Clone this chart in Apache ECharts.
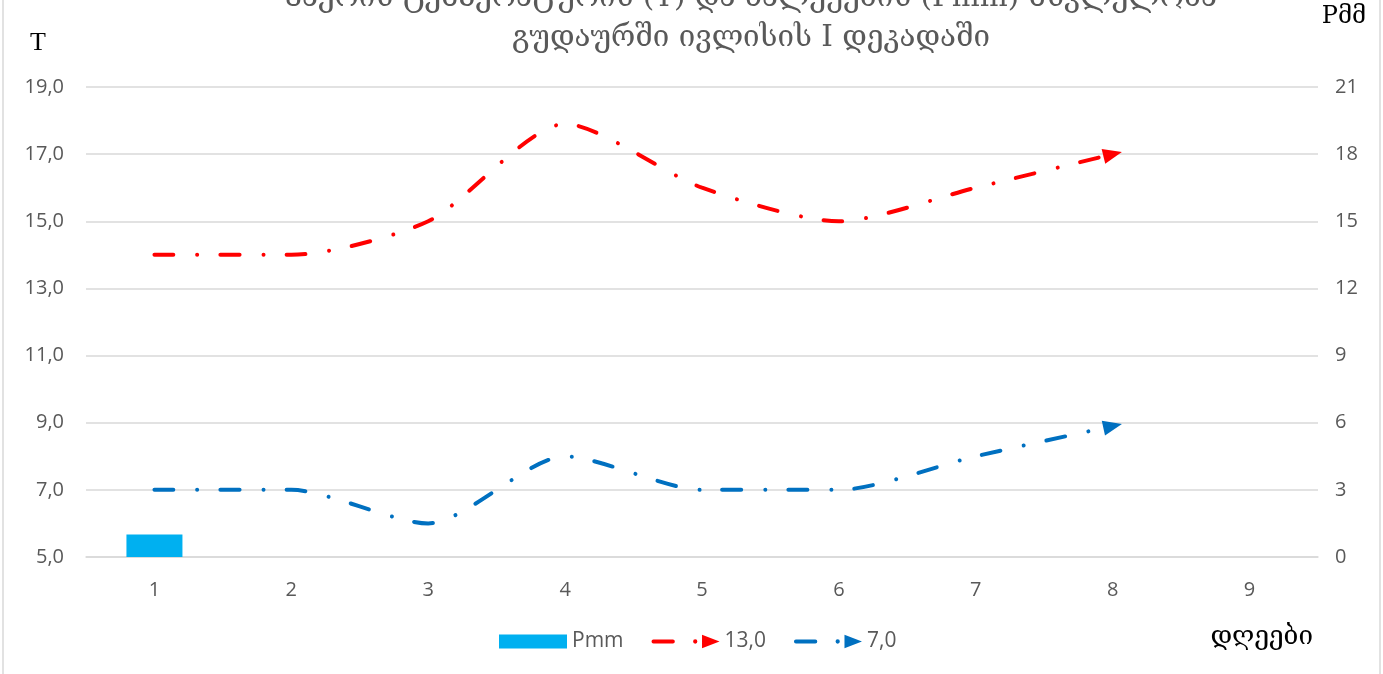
<!DOCTYPE html>
<html>
<head>
<meta charset="utf-8">
<script src="https://cdn.jsdelivr.net/npm/echarts@6/dist/echarts.min.js"></script>
<style>
  html, body { margin: 0; padding: 0; background: #fff; }
  #main { width: 1383px; height: 674px; }
</style>
</head>
<body>
<div id="main"></div>
<script>
  // დღეები (x ღერძი)
  var days = ["1", "2", "3", "4", "5", "6", "7", "8", "9"];
  // ნალექები, მმ (მარჯვენა ღერძი)
  var pmm = [1, null, null, null, null, null, null, null, null];
  // ტემპერატურა, მაქს. და მინ.
  var tMax = [14, 14, 15, 17.9, 16, 15, 16, 17, null];
  var tMin = [7, 7, 6, 8, 7, 7, 8, 8.9, null];
  var seriesNames = ["Pmm", "13,0", "7,0"];

  var grey = "#595959";
  var lineIcon = "path://M2,5 H22 A2,2 0 0 1 22,9 H2 A2,2 0 0 1 2,5 Z " +
    "M42.8,7 A2.2,2.2 0 1 0 47.2,7 A2.2,2.2 0 1 0 42.8,7 Z M52,0 L70,7 L52,14 Z";

  // ბოლო წერტილზე ისარი
  function withArrow(arr, rot) {
    var last = -1;
    arr.forEach(function (v, i) { if (v != null) last = i; });
    return arr.map(function (v, i) {
      if (i !== last) return v;
      return { value: v, symbol: "triangle", symbolSize: [15, 19], symbolRotate: rot };
    });
  }

  function dashed(color) {
    return {
      color: color,
      width: 4,
      cap: "round",
      type: [19, 24, 0.01, 23]
    };
  }

  var chart = echarts.init(document.getElementById("main"));

  function buildOption(rotMax, rotMin) {
    return {
      animation: false,
      title: {
        text: "ჰაერის ტემპერატურის (T) და ნალექების (Pmm) მსვლელობა\nგუდაურში ივლისის I დეკადაში",
        left: 746,
        textAlign: "center",
        top: -27,
        textStyle: {
          fontFamily: "DejaVu Serif",
          fontWeight: "normal",
          fontSize: 29.5,
          color: grey,
          lineHeight: 40
        }
      },
      legend: {
        bottom: 17,
        left: 494,
        itemWidth: 68,
        itemHeight: 14,
        itemGap: 28,
        textStyle: { color: grey, fontSize: 21, fontFamily: "Open Sans" },
        data: [
          { name: seriesNames[0], icon: "rect" },
          { name: seriesNames[1], icon: lineIcon },
          { name: seriesNames[2], icon: lineIcon }
        ]
      },
      graphic: [
        {
          type: "rect",
          shape: { x: 3, y: -5, width: 1377, height: 690 },
          style: { fill: "none", stroke: "#d9d9d9", lineWidth: 1.5 },
          silent: true
        },
        {
          type: "text",
          right: 70,
          top: 624,
          style: { text: "დღეები", fontSize: 26, fontFamily: "DejaVu Serif", fill: "#000" }
        }
      ],
      grid: { left: 86, right: 65, top: 87, bottom: 117, containLabel: false, outerBoundsMode: "none" },
      xAxis: {
        type: "category",
        data: days,
        boundaryGap: true,
        axisLine: { lineStyle: { color: "#d9d9d9", width: 1.5 } },
        axisTick: { show: false },
        axisLabel: { color: grey, fontSize: 20, margin: 23, fontFamily: "Open Sans" }
      },
      yAxis: [
        {
          type: "value",
          min: 5,
          max: 19,
          interval: 2,
          name: "T",
          nameGap: 31,
          nameTextStyle: { fontFamily: "Liberation Serif", fontSize: 26, color: "#000", padding: [0, 96, 0, 0] },
          axisLine: { show: false },
          axisTick: { show: false },
          splitLine: { lineStyle: { color: "#d9d9d9", width: 1.5 } },
          axisLabel: {
            color: grey, fontSize: 20, margin: 22, fontFamily: "Open Sans",
            formatter: function (v) { return v.toFixed(1).replace(".", ","); }
          }
        },
        {
          type: "value",
          min: 0,
          max: 21,
          interval: 3,
          name: "Pმმ",
          nameGap: 58,
          nameTextStyle: { fontFamily: "DejaVu Serif", fontSize: 24, color: "#000", padding: [0, 0, 0, 52] },
          axisLine: { show: false },
          axisTick: { show: false },
          splitLine: { show: false },
          axisLabel: { color: grey, fontSize: 20, margin: 17, fontFamily: "Open Sans" }
        }
      ],
      series: [
        {
          name: seriesNames[0],
          type: "bar",
          yAxisIndex: 1,
          data: pmm,
          barWidth: 56,
          itemStyle: { color: "#00B0F0" }
        },
        {
          name: seriesNames[1],
          type: "line",
          data: withArrow(tMax, rotMax),
          smooth: 0.25,
          symbol: "none",
          showSymbol: true,
          color: "#FF0000",
          itemStyle: { color: "#FF0000" },
          lineStyle: dashed("#FF0000")
        },
        {
          name: seriesNames[2],
          type: "line",
          data: withArrow(tMin, rotMin),
          smooth: 0.25,
          symbol: "none",
          showSymbol: true,
          color: "#0070C0",
          itemStyle: { color: "#0070C0" },
          lineStyle: dashed("#0070C0")
        }
      ]
    };
  }

  chart.setOption(buildOption(0, 0));

  // ისრის მიმართულება ბოლო მონაკვეთის მიხედვით
  function arrowAngle(arr, idx) {
    var last = -1;
    arr.forEach(function (v, i) { if (v != null) last = i; });
    var a = chart.convertToPixel({ seriesIndex: idx }, [last - 1, arr[last - 1]]);
    var b = chart.convertToPixel({ seriesIndex: idx }, [last, arr[last]]);
    var deg = Math.atan2(a[1] - b[1], b[0] - a[0]) * 180 / Math.PI;
    return deg - 90;
  }

  chart.setOption(buildOption(arrowAngle(tMax, 1), arrowAngle(tMin, 2)));
</script>
</body>
</html>
